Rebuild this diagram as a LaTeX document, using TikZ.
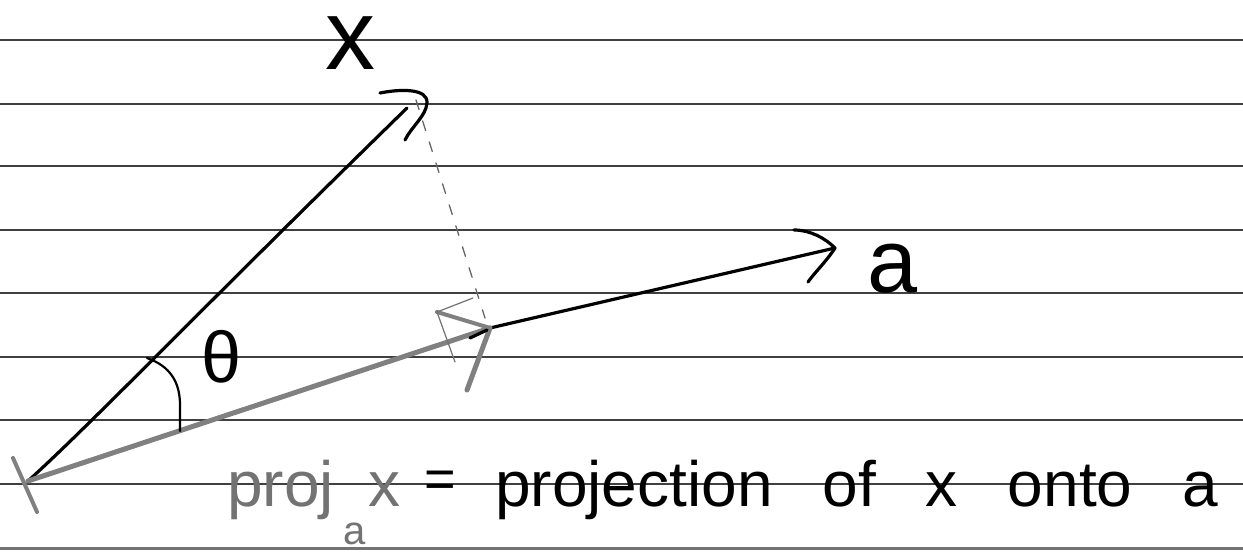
\documentclass[tikz,border=0pt]{standalone}
\usepackage{fontspec}
\setmainfont{Liberation Sans}
\begin{document}
\begin{tikzpicture}[x=1pt,y=-1pt,line cap=round,line join=round]
\tikzset{
  rule/.style={draw=black!75,line width=1.6pt},
  ink/.style={draw=black,line width=3.2pt},
  grayink/.style={draw=black!50,line width=5pt},
  faint/.style={draw=black!55,line width=1.2pt},
  dashline/.style={draw=black!60,line width=1.3pt,dash pattern=on 10pt off 12pt},
  lbl/.style={inner sep=0pt,anchor=base}
}
\useasboundingbox (0,0) rectangle (1243,556);
\fill[white] (0,0) rectangle (1243,556);
% ruled lines
\foreach \y in {40,104,166,230,293,357,420,484}
  \draw[rule] (0,\y) -- (1243,\y);
\draw[rule,draw=black!55,line width=3pt] (0,548) -- (1243,548);
% points
\coordinate (O) at (28,481);
\coordinate (Xt) at (407,108);
\coordinate (P) at (490,328);
\coordinate (At) at (835,248);
\coordinate (Dtop) at (416,100);
\coordinate (Dbot) at (485,318);
% start tick
\draw[grayink,line width=4pt] (13,458) -- (37,512);
% vector x
\draw[ink] (O) .. controls (90,425) and (200,310) .. (Xt);
\draw[ink] (380,93) .. controls (400,89) and (428,88) .. (427,103)
  .. controls (426,116) and (412,126) .. (405,140);
% dashed projection line
\draw[dashline] (Dtop) -- (Dbot);
% vector a
\draw[grayink] (O) -- (P);
\draw[ink] (P) -- (At);
\draw[ink] (794,230) .. controls (810,230) and (825,238) .. (At)
  .. controls (826,262) and (815,272) .. (808,282);
% projection arrowhead
\draw[grayink,line width=4pt] (P) -- (437,312);
\draw[grayink] (P) -- (467,390);
\draw[faint] (437,312) -- (473,298);
\draw[faint] (437,312) -- (455,362);
\draw[ink] (470,338) -- (487,330);
% angle arc
\draw[line width=2.2pt] (147,358) .. controls (170,366) and (180,382) .. (180,405) -- (180,431);
% labels
\node[inner sep=0pt,font=\fontsize{72}{72}\selectfont] (theta) at (222,357) {θ};
\node[lbl,text height=54pt,text depth=0pt,font=\fontsize{100}{100}\selectfont] (xlab) at (350,70) {x};
\node[lbl,font=\fontsize{90}{90}\selectfont] (alab) at (893,292) {a};
% bottom text
\node[inner sep=0pt,anchor=base west,font=\fontsize{64}{64}\selectfont,text=black!55] (lhs) at (227,506)
  {proj\hspace{10pt}\raisebox{-38pt}{\fontsize{40}{40}\selectfont a}\hspace{2pt}x};
\node[inner sep=0pt,font=\fontsize{54}{54}\selectfont] (eq) at (440,484) {=};
\node[inner sep=0pt,anchor=base west,font=\fontsize{64}{64}\selectfont] (rhs) at (495,506)
  {\spaceskip=50pt projection of x onto a};
\end{tikzpicture}
\end{document}
